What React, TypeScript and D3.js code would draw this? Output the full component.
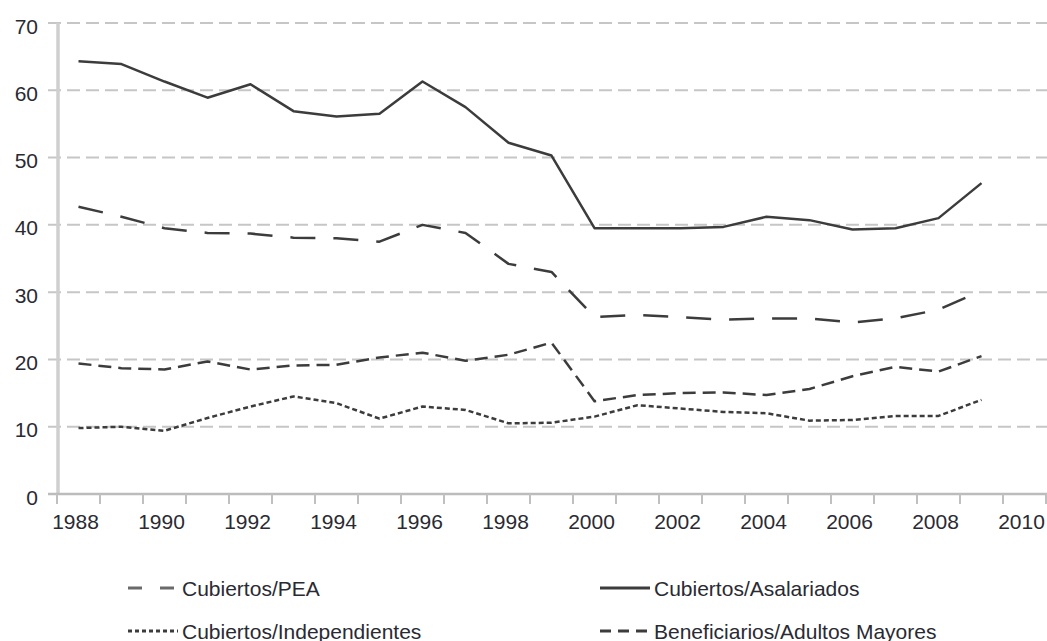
import React, { useEffect, useRef } from "react";
import * as d3 from "d3";

// categories on the x axis (one band per year), labels every other year
const categories = [
  "1988", "1989", "1990", "1991", "1992", "1993", "1994", "1995", "1996", "1997", "1998", "1999",
  "2000", "2001", "2002", "2003", "2004", "2005", "2006", "2007", "2008", "2009", "2010",
];
const xLabels = ["1988", "1990", "1992", "1994", "1996", "1998", "2000", "2002", "2004", "2006", "2008", "2010"];
const yTicks = [0, 10, 20, 30, 40, 50, 60, 70];

// years that carry data
const dataYears = [
  "1988", "1989", "1990", "1991", "1992", "1993", "1994", "1995", "1996", "1997", "1998",
  "1999", "2000", "2001", "2002", "2003", "2004", "2005", "2006", "2007", "2008", "2009",
];

const cubiertosPEA = [42.7, 41.2, 39.5, 38.8, 38.7, 38.1, 38.0, 37.5, 40.0, 38.8, 34.2, 33.0, 26.3, 26.6, 26.3, 25.9, 26.1, 26.1, 25.5, 26.1, 27.4, 30.2];
const cubiertosAsalariados = [64.3, 63.9, 61.3, 58.9, 60.9, 56.9, 56.1, 56.5, 61.3, 57.5, 52.2, 50.3, 39.5, 39.5, 39.5, 39.7, 41.2, 40.7, 39.3, 39.5, 41.0, 46.2];
const cubiertosIndependientes = [9.8, 10.0, 9.4, 11.3, 13.0, 14.5, 13.5, 11.2, 13.0, 12.5, 10.5, 10.6, 11.5, 13.2, 12.7, 12.2, 12.0, 10.9, 11.0, 11.6, 11.6, 14.0];
const beneficiariosAdultos = [19.4, 18.7, 18.5, 19.7, 18.5, 19.1, 19.2, 20.3, 21.0, 19.8, 20.7, 22.5, 13.8, 14.7, 15.0, 15.1, 14.7, 15.6, 17.5, 18.9, 18.2, 20.5];

const seriesNames = ["Cubiertos/PEA", "Cubiertos/Asalariados", "Cubiertos/Independientes", "Beneficiarios/Adultos Mayores"];

export default function App() {
  const ref = useRef<SVGSVGElement | null>(null);

  useEffect(() => {
    const width = 1047;
    const height = 641;
    const svg = d3.select(ref.current);
    svg.selectAll("*").remove();
    svg.attr("width", width).attr("height", height);

    const x = d3.scaleBand().domain(categories).range([57, 1046]).padding(0);
    const y = d3.scaleLinear().domain([0, 70]).range([494, 23]);
    const cx = (c: string) => (x(c) as number) + x.bandwidth() / 2;

    const textColor = "#2a2a33";
    const lineColor = "#3c3c3c";
    const axisColor = "#c6c6c6";
    const font = "'Liberation Sans', Arial, sans-serif";

    // dashed horizontal gridlines
    svg.append("g")
      .selectAll("line")
      .data(yTicks.filter((t) => t > 0))
      .join("line")
      .attr("x1", 48)
      .attr("x2", width)
      .attr("y1", (d) => y(d))
      .attr("y2", (d) => y(d))
      .attr("stroke", axisColor)
      .attr("stroke-width", 2)
      .attr("stroke-dasharray", "13,6");

    // y axis line
    svg.append("line")
      .attr("x1", 58).attr("x2", 58)
      .attr("y1", y(70)).attr("y2", y(0))
      .attr("stroke", "#cfcfcf")
      .attr("stroke-width", 3.5);

    // x axis line + ticks at band edges
    svg.append("line")
      .attr("x1", 48).attr("x2", width)
      .attr("y1", y(0)).attr("y2", y(0))
      .attr("stroke", "#bcbcbc")
      .attr("stroke-width", 2.5);

    const edges = categories.map((c) => x(c) as number).concat([x.range()[1]]);
    svg.append("g")
      .selectAll("line")
      .data(edges)
      .join("line")
      .attr("x1", (d) => d).attr("x2", (d) => d)
      .attr("y1", y(0)).attr("y2", y(0) + 10)
      .attr("stroke", "#c0c0c0")
      .attr("stroke-width", 2);

    // y tick labels
    svg.append("g")
      .selectAll("text")
      .data(yTicks)
      .join("text")
      .attr("x", 38)
      .attr("y", (d) => y(d) + 3)
      .attr("dominant-baseline", "central")
      .attr("text-anchor", "end")
      .attr("fill", textColor)
      .style("font-family", font)
      .style("font-size", "21px")
      .text((d) => d);

    // x tick labels
    svg.append("g")
      .selectAll("text")
      .data(xLabels)
      .join("text")
      .attr("x", (d) => cx(d) - 3)
      .attr("y", 529)
      .attr("text-anchor", "middle")
      .attr("fill", textColor)
      .style("font-family", font)
      .style("font-size", "21px")
      .text((d) => d);

    const series = [
      { name: seriesNames[0], values: cubiertosPEA, dash: "25,18", legendDash: "14,18", legendColor: "#6a6a6a" },
      { name: seriesNames[1], values: cubiertosAsalariados, dash: null, legendDash: null, legendColor: lineColor },
      { name: seriesNames[2], values: cubiertosIndependientes, dash: "5,3", legendDash: "4,3", legendColor: lineColor },
      { name: seriesNames[3], values: beneficiariosAdultos, dash: "13,7", legendDash: "11,7", legendColor: lineColor },
    ];

    const line = d3
      .line<number>()
      .x((_, i) => cx(dataYears[i]))
      .y((d) => y(d))
      .curve(d3.curveLinear);

    series.forEach((s) => {
      const p = svg.append("path")
        .datum(s.values)
        .attr("d", line)
        .attr("fill", "none")
        .attr("stroke", lineColor)
        .attr("stroke-width", 2.5)
        .attr("stroke-linejoin", "round");
      if (s.dash) p.attr("stroke-dasharray", s.dash);
    });

    // legend: two columns, two rows
    const legendPos = [
      { lx: 128, ly: 588 },
      { lx: 600, ly: 588 },
      { lx: 128, ly: 631 },
      { lx: 600, ly: 631 },
    ];
    series.forEach((s, i) => {
      const { lx, ly } = legendPos[i];
      const l = svg.append("line")
        .attr("x1", lx).attr("x2", lx + 50)
        .attr("y1", ly).attr("y2", ly)
        .attr("stroke", s.legendColor)
        .attr("stroke-width", 3);
      if (s.legendDash) l.attr("stroke-dasharray", s.legendDash);
      svg.append("text")
        .attr("x", lx + 54)
        .attr("y", ly)
        .attr("dominant-baseline", "central")
        .attr("fill", textColor)
        .style("font-family", font)
        .style("font-size", "21px")
        .text(s.name);
    });
  }, []);

  return (
    <div style={{ position: "absolute", left: 0, top: 0, background: "#ffffff" }}>
      <svg ref={ref} style={{ display: "block" }} />
    </div>
  );
}
